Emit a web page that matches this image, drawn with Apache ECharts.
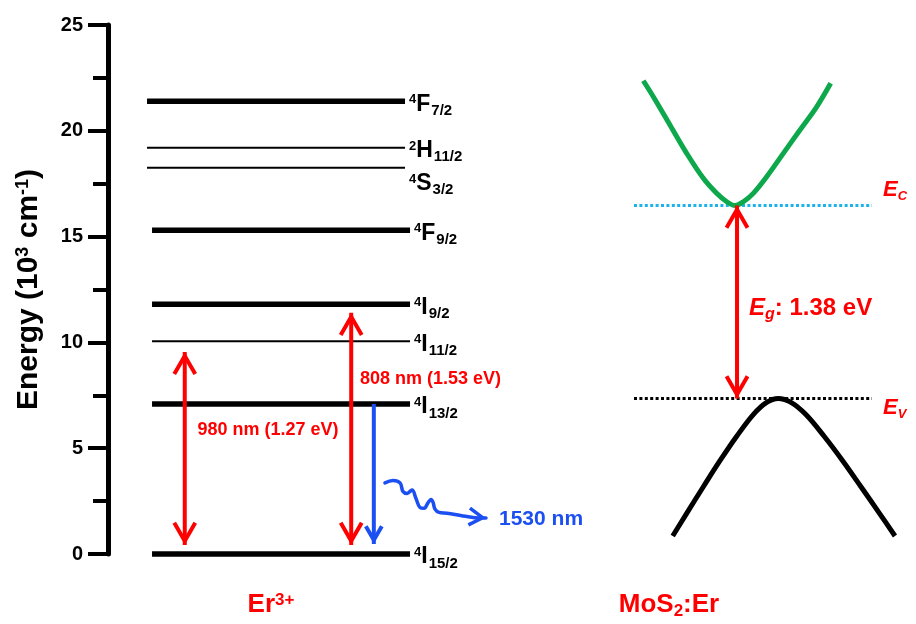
<!DOCTYPE html>
<html>
<head>
<meta charset="utf-8">
<title>Er3+ levels and MoS2:Er band edges</title>
<script src="https://cdn.jsdelivr.net/npm/echarts@6/dist/echarts.min.js"></script>
<style>
  html, body { margin: 0; padding: 0; background: #ffffff; }
  #chart { width: 916px; height: 624px; }
</style>
</head>
<body>
<div id="chart"></div>
<script>
const FONT = '"Liberation Sans", Arial, Helvetica, sans-serif';

// ---- Er3+ energy levels (10^3 cm^-1) ----
const levelMult   = ['4', '4', '4', '4', '4', '4', '2', '4'];
const levelLetter = ['I', 'I', 'I', 'I', 'F', 'S', 'H', 'F'];
const levelJ      = ['15/2', '13/2', '11/2', '9/2', '9/2', '3/2', '11/2', '7/2'];
const levelEnergy = [0, 7.09, 10.05, 11.8, 15.3, 18.25, 19.2, 21.4];

// energy axis ticks (10^3 cm^-1)
const energyTicks = [0, 5, 10, 15, 20, 25];

// ---- optical transitions (10^3 cm^-1) ----
const pumpLabel = ['980 nm (1.27 eV)', '808 nm (1.53 eV)'];
const pumpPos   = [9.5, 30.1];          // schematic abscissa
const pumpLow   = [0.43, 0.43];
const pumpHigh  = [9.55, 11.4];

const emissionLabel = '1530 nm';
const emissionPos   = 32.9;
const emissionFrom  = 7.09;
const emissionTo    = 0.47;

// wavy emitted photon path
const wavePos = [34.28, 35.27, 36.14, 36.51, 37.0, 37.62, 38.12, 38.61, 39.11, 39.6, 39.98, 40.22, 40.47, 40.97, 41.96, 43.94, 46.04, 46.78];
const waveE   = [3.36, 3.47, 3.36, 2.95, 2.86, 3.02, 2.62, 2.20, 2.16, 2.42, 2.58, 2.45, 2.12, 1.97, 1.93, 1.80, 1.70, 1.70];

// ---- MoS2:Er band edges (eV, relative to the valence band maximum) ----
const bandGap = 1.38;
const Ec = 1.38;
const Ev = 0;
const edgeSpan = [65.1, 94.55];

const cbK = [66.25, 67.49, 69.55, 71.62, 73.68, 75.33, 76.58, 77.6, 78.63, 79.86, 81.52, 83.58, 85.64, 87.71, 89.44];
const cbE = [2.272, 2.158, 1.956, 1.753, 1.574, 1.467, 1.407, 1.38, 1.407, 1.467, 1.586, 1.753, 1.92, 2.086, 2.254];

const vbK = [69.89, 71.62, 73.68, 75.74, 77.81, 79.86, 81.52, 82.95, 84.53, 86.37, 88.63, 90.92, 93.19, 95.48, 97.4];
const vbE = [-0.983, -0.821, -0.631, -0.445, -0.27, -0.115, -0.028, 0, -0.028, -0.115, -0.27, -0.445, -0.631, -0.821, -0.983];

const gapPos = 77.85;

// ---- styling lookups ----
const thinLevels = { '4I11/2': true, '4S3/2': true, '2H11/2': true };
const wideSpan   = { '4F7/2': true, '4S3/2': true, '2H11/2': true };
const labelDrop  = { '4S3/2': 13 };
const RED = '#ff0000';
const BLUE = '#1c4ff2';
const GREEN = '#0ca84b';
const CYAN = '#1db3ea';

function levelKey(i) { return levelMult[i] + levelLetter[i] + levelJ[i]; }

function chevron(tip, from, len, half, lw, color) {
  const dx = tip[0] - from[0], dy = tip[1] - from[1];
  const d = Math.hypot(dx, dy) || 1;
  const ux = dx / d, uy = dy / d;
  // pull the joint back so the outer miter lands on the tip
  const back = lw / (2 * Math.sin(half));
  const tx = tip[0] - ux * back, ty = tip[1] - uy * back;
  const c = Math.cos(half), s = Math.sin(half);
  const ax = ux * c - uy * s, ay = ux * s + uy * c;
  const bx = ux * c + uy * s, by = -ux * s + uy * c;
  return {
    type: 'polyline',
    shape: { points: [[tx - ax * len, ty - ay * len], [tx, ty], [tx - bx * len, ty - by * len]] },
    style: { stroke: color, lineWidth: lw, fill: null, lineJoin: 'miter', miterLimit: 10 }
  };
}

const levelRich = {
  sup:  { fontFamily: FONT, fontWeight: 'bold', fontSize: 13, fill: '#000', padding: [0, 0, 9, 0] },
  base: { fontFamily: FONT, fontWeight: 'bold', fontSize: 23, fill: '#000' },
  sub:  { fontFamily: FONT, fontWeight: 'bold', fontSize: 15, fill: '#000', padding: [13, 0, 0, 1] }
};

const levelData = levelEnergy.map((e, i) => {
  const wide = wideSpan[levelKey(i)];
  return [wide ? 4.83 : 5.45, wide ? 36.76 : 37.38, e];
});

function renderLevel(params, api) {
  const i = params.dataIndex;
  const key = levelKey(i);
  const p1 = api.coord([api.value(0), api.value(2)]);
  const p2 = api.coord([api.value(1), api.value(2)]);
  return {
    type: 'group',
    children: [
      { type: 'line', shape: { x1: p1[0], y1: p1[1], x2: p2[0], y2: p2[1] },
        style: { stroke: '#000', lineWidth: thinLevels[key] ? 2 : 5.5 } },
      { type: 'text', x: p2[0] + 4, y: p1[1] + 3 + (labelDrop[key] || 0),
        style: { text: '{sup|' + levelMult[i] + '}{base|' + levelLetter[i] + '}{sub|' + levelJ[i] + '}',
                 rich: levelRich, align: 'left', verticalAlign: 'middle' } }
    ]
  };
}

// vertical arrows: [x, from, to]; heads at "to", and at "from" too when double
const arrowData = [
  [pumpPos[0], pumpLow[0], pumpHigh[0]],
  [pumpPos[1], pumpLow[1], pumpHigh[1]],
  [emissionPos, emissionFrom, emissionTo]
];
const arrowStyle = [
  { color: RED, both: true, len: 21 },
  { color: RED, both: true, len: 21 },
  { color: BLUE, both: false, len: 16 }
];

function renderArrow(style) {
  return function (params, api) {
    const st = style[params.dataIndex];
    const a = api.coord([api.value(0), api.value(1)]);
    const b = api.coord([api.value(0), api.value(2)]);
    const half = 30 * Math.PI / 180;
    const kids = [
      { type: 'line', shape: { x1: a[0], y1: a[1], x2: b[0], y2: b[1] },
        style: { stroke: st.color, lineWidth: 4 } },
      chevron(b, a, st.len, half, 4, st.color)
    ];
    if (st.both) kids.push(chevron(a, b, st.len, half, 4, st.color));
    return { type: 'group', children: kids };
  };
}

function renderWaveHead(params, api) {
  const n = wavePos.length;
  const tip = api.coord([wavePos[n - 1], waveE[n - 1]]);
  const prev = api.coord([wavePos[n - 3], waveE[n - 3]]);
  return chevron(tip, prev, 16, 32 * Math.PI / 180, 3.5, BLUE);
}

const chart = echarts.init(document.getElementById('chart'), null, { renderer: 'canvas' });

const option = {
  animation: false,
  backgroundColor: '#ffffff',
  grid: { left: 108, right: 0, top: 25, bottom: 70, containLabel: false, outerBoundsMode: 'none' },
  xAxis: { type: 'value', min: 0, max: 100, show: false },
  yAxis: [
    {
      type: 'value',
      min: energyTicks[0],
      max: energyTicks[energyTicks.length - 1],
      interval: energyTicks[1] - energyTicks[0],
      position: 'left',
      name: 'Energy (10{sup|3} cm{sup|-1})',
      nameLocation: 'middle',
      nameGap: 64,
      nameRotate: 90,
      nameTextStyle: {
        fontFamily: FONT, fontWeight: 'bold', fontSize: 30, color: '#000',
        rich: {
          sup: { fontFamily: FONT, fontWeight: 'bold', fontSize: 18, color: '#000', padding: [0, 0, 12, 0] }
        }
      },
      axisLine: { show: true, lineStyle: { color: '#000', width: 5 } },
      axisTick: { show: true, inside: false, length: 20, lineStyle: { color: '#000', width: 4 } },
      minorTick: { show: true, splitNumber: 2, length: 15, lineStyle: { color: '#000', width: 4 } },
      axisLabel: { show: true, margin: 25, fontFamily: FONT, fontWeight: 'bold', fontSize: 20, color: '#000' },
      splitLine: { show: false },
      minorSplitLine: { show: false }
    },
    {
      // band-diagram energy scale (eV), not drawn
      type: 'value',
      min: -1.1118,
      max: 2.6706,
      show: false,
      splitLine: { show: false }
    }
  ],
  graphic: [
    { type: 'text', x: 268, y: 430,
      style: { text: pumpLabel[0], fill: RED, font: 'bold 18px ' + FONT, align: 'center', verticalAlign: 'middle' } },
    { type: 'text', x: 360, y: 379,
      style: { text: pumpLabel[1], fill: RED, font: 'bold 18px ' + FONT, align: 'left', verticalAlign: 'middle' } },
    { type: 'text', x: 499, y: 519,
      style: { text: emissionLabel, fill: BLUE, font: 'bold 21px ' + FONT, align: 'left', verticalAlign: 'middle' } },
    { type: 'text', x: 749, y: 308,
      style: { text: '{e|E}{g|g}{t|: ' + bandGap.toFixed(2) + ' eV}', align: 'left', verticalAlign: 'middle',
        rich: {
          e: { fontFamily: FONT, fontWeight: 'bold', fontStyle: 'italic', fontSize: 24, fill: RED },
          g: { fontFamily: FONT, fontWeight: 'bold', fontStyle: 'italic', fontSize: 16, fill: RED, padding: [14, 0, 0, 0] },
          t: { fontFamily: FONT, fontWeight: 'bold', fontSize: 24, fill: RED }
        } } },
    { type: 'text', x: 883, y: 190,
      style: { text: '{e|E}{s|C}', align: 'left', verticalAlign: 'middle',
        rich: {
          e: { fontFamily: FONT, fontWeight: 'bold', fontStyle: 'italic', fontSize: 22, fill: RED },
          s: { fontFamily: FONT, fontWeight: 'bold', fontStyle: 'italic', fontSize: 13, fill: RED, padding: [13, 0, 0, 0] }
        } } },
    { type: 'text', x: 883, y: 408,
      style: { text: '{e|E}{s|V}', align: 'left', verticalAlign: 'middle',
        rich: {
          e: { fontFamily: FONT, fontWeight: 'bold', fontStyle: 'italic', fontSize: 22, fill: RED },
          s: { fontFamily: FONT, fontWeight: 'bold', fontStyle: 'italic', fontSize: 13, fill: RED, padding: [13, 0, 0, 0] }
        } } },
    { type: 'text', x: 271, y: 605,
      style: { text: '{b|Er}{sup|3+}', align: 'center', verticalAlign: 'middle',
        rich: {
          b: { fontFamily: FONT, fontWeight: 'bold', fontSize: 26, fill: RED },
          sup: { fontFamily: FONT, fontWeight: 'bold', fontSize: 17, fill: RED, padding: [0, 0, 10, 0] }
        } } },
    { type: 'text', x: 669, y: 605,
      style: { text: '{b|MoS}{sub|2}{b|:Er}', align: 'center', verticalAlign: 'middle',
        rich: {
          b: { fontFamily: FONT, fontWeight: 'bold', fontSize: 26, fill: RED },
          sub: { fontFamily: FONT, fontWeight: 'bold', fontSize: 17, fill: RED, padding: [12, 0, 0, 0] }
        } } }
  ],
  series: [
    {
      name: 'levels',
      type: 'custom',
      xAxisIndex: 0, yAxisIndex: 0,
      data: levelData,
      encode: { x: [0, 1], y: 2 },
      renderItem: renderLevel,
      silent: true,
      z: 3
    },
    {
      name: 'transitions',
      type: 'custom',
      xAxisIndex: 0, yAxisIndex: 0,
      data: arrowData,
      encode: { x: 0, y: [1, 2] },
      renderItem: renderArrow(arrowStyle),
      silent: true,
      z: 4
    },
    {
      name: 'photon',
      type: 'line',
      xAxisIndex: 0, yAxisIndex: 0,
      data: wavePos.map((x, i) => [x, waveE[i]]),
      smooth: 0.4,
      symbol: 'none',
      lineStyle: { color: BLUE, width: 3.5, cap: 'round', join: 'round' },
      silent: true,
      z: 4
    },
    {
      name: 'photon head',
      type: 'custom',
      xAxisIndex: 0, yAxisIndex: 0,
      data: [[wavePos[wavePos.length - 1], waveE[waveE.length - 1]]],
      encode: { x: 0, y: 1 },
      renderItem: renderWaveHead,
      silent: true,
      z: 4
    },
    {
      name: 'conduction band',
      type: 'line',
      xAxisIndex: 0, yAxisIndex: 1,
      data: cbK.map((k, i) => [k, cbE[i]]),
      smooth: 0.35,
      symbol: 'none',
      lineStyle: { color: GREEN, width: 5, cap: 'butt' },
      silent: true,
      z: 3
    },
    {
      name: 'valence band',
      type: 'line',
      xAxisIndex: 0, yAxisIndex: 1,
      data: vbK.map((k, i) => [k, vbE[i]]),
      smooth: 0.35,
      symbol: 'none',
      lineStyle: { color: '#000', width: 5, cap: 'butt' },
      silent: true,
      z: 3
    },
    {
      name: 'Ec',
      type: 'line',
      xAxisIndex: 0, yAxisIndex: 1,
      data: [[edgeSpan[0], Ec], [edgeSpan[1], Ec]],
      symbol: 'none',
      lineStyle: { color: CYAN, width: 3, type: [3, 2.4] },
      silent: true,
      z: 2
    },
    {
      name: 'Ev',
      type: 'line',
      xAxisIndex: 0, yAxisIndex: 1,
      data: [[edgeSpan[0], Ev], [edgeSpan[1], Ev]],
      symbol: 'none',
      lineStyle: { color: '#000', width: 3, type: [3, 2.4] },
      silent: true,
      z: 2
    },
    {
      name: 'band gap',
      type: 'custom',
      xAxisIndex: 0, yAxisIndex: 1,
      data: [[gapPos, Ev, Ec]],
      encode: { x: 0, y: [1, 2] },
      renderItem: renderArrow([{ color: RED, both: true, len: 21 }]),
      silent: true,
      z: 4
    }
  ]
};

chart.setOption(option);
</script>
</body>
</html>
